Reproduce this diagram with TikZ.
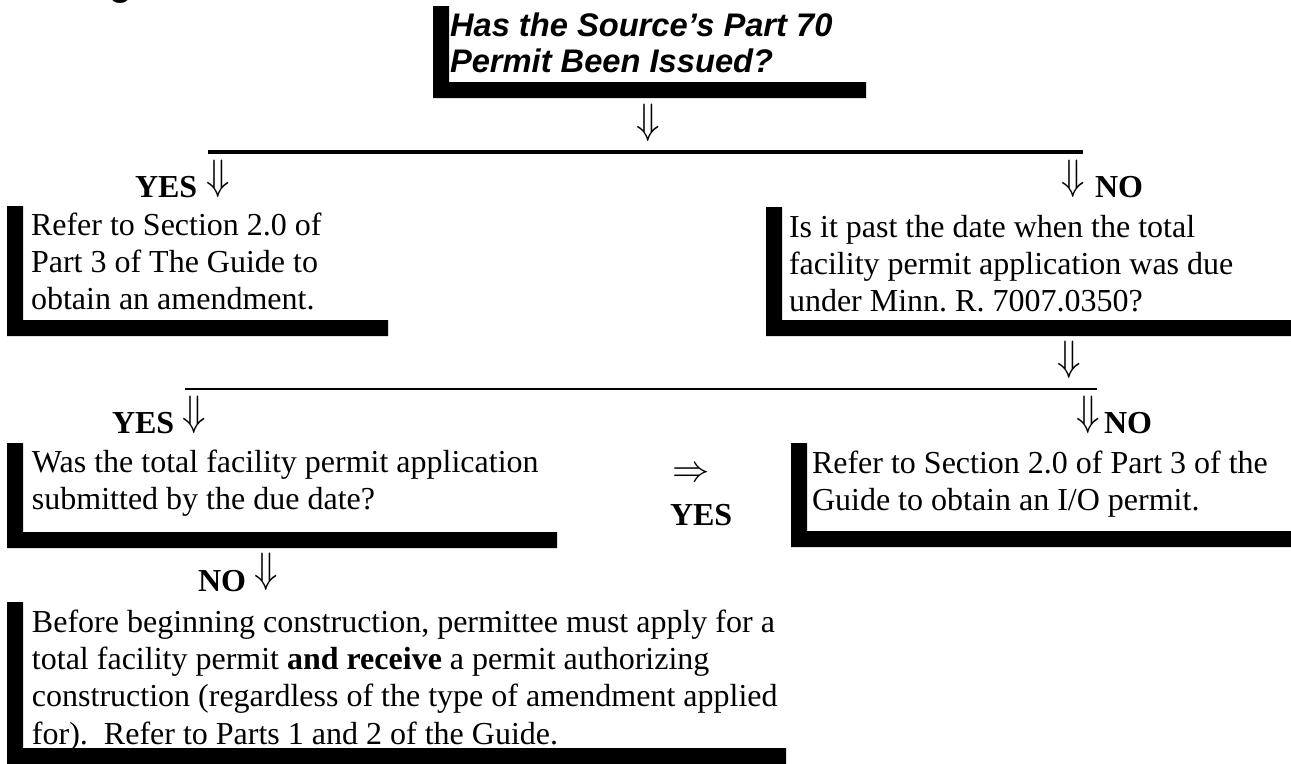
\documentclass[tikz,border=0pt]{standalone}
\usepackage{fontspec}
\setmainfont{Liberation Serif}
\newfontfamily\headfont{Liberation Sans}
\usepackage{graphicx}
\usepackage{tikz}
\frenchspacing

\newcommand{\dnarr}{\scalebox{1.2}[1.33]{$\Downarrow$}}
\newcommand{\rtarr}{\scalebox{1.4}[1.4]{$\Rightarrow$}}
% black L behind a box: left, top, right, bottom
\newcommand{\lframe}[4]{\fill (#1,#2) -- (#1+16,#2) -- (#1+16,#4-16) -- (#3,#4-16) -- (#3,#4) -- (#1,#4) -- cycle;}

\begin{document}
\begin{tikzpicture}[x=0.375pt,y=-0.375pt,
  every node/.style={inner sep=0pt,outer sep=0pt},
  boxtext/.style={anchor=north west,align=left,font=\fontsize{12}{14}\selectfont},
  titletext/.style={anchor=north west,align=left,font=\headfont\bfseries\itshape\fontsize{12.25}{13.5}\selectfont},
  answer/.style={anchor=base west,font=\fontsize{12}{14}\selectfont\bfseries},
  downarr/.style={anchor=south west,font=\fontsize{12}{14}\selectfont},
  sepline/.style={line width=1.25pt}]

  \useasboundingbox (0,0) rectangle (1291,764);
  \begin{scope}
    \clip (0,0) rectangle (1291,764);
    \node[anchor=base west,font=\headfont\bfseries\fontsize{14}{16}\selectfont] (cut) at (110,-5) {g};
  \end{scope}

  % question 1
  \lframe{433}{6}{866}{98}
  \node[titletext] (issued) at (450,11) {\strut Has the Source’s Part 70\\Permit Been Issued?};
  \node[downarr] (dn0) at (636,142) {\dnarr};
  \coordinate (r1a) at (208,152);
  \coordinate (r1b) at (1083,152);
  \draw[sepline] (r1a) -- (r1b);

  \node[answer] (yes1) at (135,197) {YES};
  \node[downarr] (dn1) at (206,198) {\dnarr};
  \node[downarr] (dn2) at (1061,198) {\dnarr};
  \node[answer] (no1) at (1095,197) {NO};

  \lframe{7}{206}{388}{336}
  \node[boxtext] (amend) at (31,209) {\strut Refer to Section 2.0 of\\Part 3 of The Guide to\\obtain an amendment.};

  % question 2
  \lframe{766}{207}{1291}{336}
  \node[boxtext] (pastdue) at (789,211) {\strut Is it past the date when the total\\facility permit application was due\\under Minn. R. 7007.0350?};
  \node[downarr] (dn3) at (1057,379) {\dnarr};
  \coordinate (r2a) at (185,389);
  \coordinate (r2b) at (1097,389);
  \draw[sepline,line width=1pt] (r2a) -- (r2b);

  \node[answer] (yes2) at (112,433) {YES};
  \node[downarr] (dn4) at (182,434) {\dnarr};
  \node[downarr] (dn5) at (1076,434) {\dnarr};
  \node[answer] (no2) at (1104,433) {NO};

  % question 3
  \lframe{7}{443}{557}{548}
  \node[boxtext] (submitted) at (32,446) {\strut Was the total facility permit application\\submitted by the due date?};
  \node (rt) at (691,475) {\rtarr};
  \node[answer] (yes3) at (670,525) {YES};

  \lframe{791}{443}{1291}{547}
  \node[boxtext] (iopermit) at (812,447) {\strut Refer to Section 2.0 of Part 3 of the\\Guide to obtain an I/O permit.};

  \node[answer] (no3) at (198,591) {NO};
  \node[downarr] (dn6) at (254,591) {\dnarr};
  \lframe{7}{602}{786}{764}
  \node[boxtext] (construct) at (32,606) {\strut Before beginning construction, permittee must apply for a\\total facility permit \textbf{and receive} a permit authorizing\\construction (regardless of the type of amendment applied\\for).\ \ Refer to Parts 1 and 2 of the Guide.};

\end{tikzpicture}
\end{document}
